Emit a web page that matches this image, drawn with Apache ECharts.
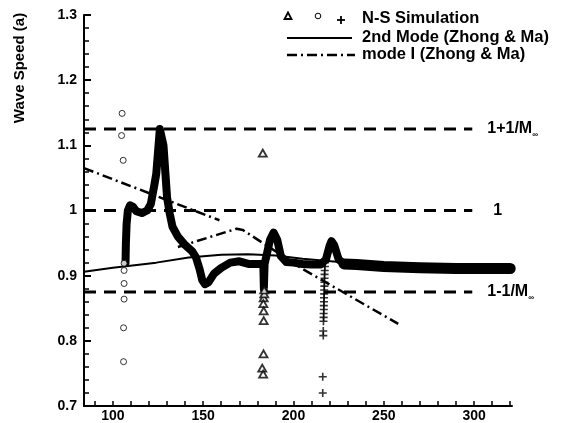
<!DOCTYPE html>
<html><head><meta charset="utf-8">
<script src="https://cdn.jsdelivr.net/npm/echarts@6/dist/echarts.min.js"></script>
<style>html,body{margin:0;padding:0;background:#fff}#c{width:573px;height:423px}</style>
</head><body><div id="c"></div>
<script>
// ---- data ----
const xTickLabels = [100, 150, 200, 250, 300];
const xTickValues = [90,100,110,120,130,140,150,160,170,180,190,200,210,220,230,240,250,260,270,280,290,300,310,320];
const refLevels = [1.125, 1.0, 0.875];
const refLabels = ['1+1/M', '1', '1-1/M'];
const refXStart = 84, refXEnd = 299;

// N-S simulation (dense band)
const nsCurve = [[107,0.92],[107.2,0.95],[107.6,0.98],[108.3,1.0],[109.5,1.008],[111,1.006],[113,0.999],[116,0.996],[119,1.0],[121,1.01],[123,1.04],[124,1.056],[125,1.09],[126,1.125],[127,1.127],[128,1.1],[129,1.06],[130,1.02],[131.5,0.995],[133,0.975],[136,0.96],[140,0.947],[144,0.937],[146,0.928],[148,0.91],[149.5,0.893],[151,0.887],[153,0.89],[156,0.903],[160,0.912],[165,0.92],[170,0.922],[175,0.918],[180,0.918],[183.3,0.918],[183.6,0.88],[184,0.918],[185,0.93],[187,0.955],[189,0.966],[191,0.955],[193,0.93],[196,0.921],[200,0.92],[205,0.918],[210,0.917],[215,0.917],[218,0.925],[220,0.946],[221,0.953],[222.5,0.947],[225,0.925],[228,0.918]];
const nsTail = [[228,0.918],[235,0.917],[250,0.914],[270,0.912],[290,0.911],[320,0.911]];
const nsCircles = [[105.1,1.149],[104.8,1.115],[105.7,1.077],[106.2,0.919],[106.2,0.908],[106.2,0.888],[106.2,0.864],[105.9,0.82],[105.9,0.768]];
const nsTriangles = [[183,1.088],[183.5,0.866],[183.3,0.857],[183.5,0.846],[183.5,0.831],[183.4,0.78],[182.7,0.758],[183.2,0.749],[183.8,0.872],[183.8,0.878]];
const nsPluses = [[216.2,0.72],[216.2,0.745],[216.5,0.808],[216.5,0.815],[216.6,0.83],[216.7,0.836],[216.7,0.842],[216.8,0.848],[216.8,0.854],[216.9,0.86],[216.9,0.866],[217,0.872],[217,0.878],[217.1,0.884],[217.1,0.89],[217.2,0.896],[217.2,0.902],[217.3,0.908],[217.4,0.914],[217.5,0.92]];

// 2nd mode (Zhong & Ma)
const mode2 = [[84,0.906],[100,0.912],[124,0.92],[142,0.928],[160,0.932],[175,0.933],[190,0.931],[205,0.926],[230,0.92],[260,0.915],[300,0.912],[320,0.911]];
// mode I (Zhong & Ma)
const mode1 = [[84,1.065],[159,0.985],null,[136,0.944],[168.5,0.972],[172,0.970],[187,0.943],[204,0.912],[258,0.826]];

const chart = echarts.init(document.getElementById('c'));
const FONT = 'Liberation Sans';
const series = [];
refLevels.forEach((v, i) => {
  series.push({
    type: 'line', data: [[refXStart, v], [refXEnd, v]],
    symbol: 'none', silent: true, z: 1,
    lineStyle: {color: '#000', width: 3, type: [12, 8]},
    endLabel: {show: true, distance: i === 1 ? 21 : 15, fontFamily: FONT, fontWeight: 'bold', fontSize: 16, color: '#000',
      formatter: () => i === 1 ? refLabels[i] : '{a|' + refLabels[i] + '}{b|∞}',
      rich: {a: {fontFamily: FONT, fontWeight: 'bold', fontSize: 16, color: '#000'},
             b: {fontFamily: FONT, fontSize: 8, color: '#000', padding: [12, 0, 0, 0]}}}
  });
});
series.push({type: 'line', data: mode2, symbol: 'none', z: 2, lineStyle: {color: '#000', width: 2}});
series.push({type: 'line', data: mode1, symbol: 'none', z: 2, connectNulls: false, lineStyle: {color: '#000', width: 2.5, type: [10, 4, 2, 4]}});
series.push({type: 'line', data: nsCurve, symbol: 'none', z: 3, lineStyle: {color: '#000', width: 8, cap: 'round', join: 'round'}});
series.push({type: 'line', data: nsTail, symbol: 'none', z: 3, lineStyle: {color: '#000', width: 11, cap: 'round', join: 'round'}});
series.push({type: 'scatter', data: nsCircles, symbol: 'circle', symbolSize: 6, z: 4,
  itemStyle: {color: '#fff', borderColor: '#000', borderWidth: 1}});
series.push({type: 'scatter', data: nsTriangles, symbol: 'triangle', symbolSize: [8, 7], z: 4,
  itemStyle: {color: '#fff', borderColor: '#000', borderWidth: 1.8}});
series.push({type: 'scatter', data: nsPluses, symbol: 'path://M-0.8,-4 H0.8 V-0.8 H4 V0.8 H0.8 V4 H-0.8 V0.8 H-4 V-0.8 H-0.8 Z', symbolSize: 8, z: 4,
  itemStyle: {color: '#000'}});

const legendY = [18, 37, 54];
const LF = 16.5;
chart.setOption({
  animation: false,
  grid: {left: 84, right: 61, top: 15, bottom: 17, containLabel: false},
  xAxis: {type: 'value', min: 84, max: 321,
    axisLine: {onZero: false, lineStyle: {color: '#000', width: 2}},
    axisTick: {inside: true, length: 5, customValues: xTickValues, lineStyle: {color: '#000', width: 1.5}},
    axisLabel: {customValues: xTickLabels, margin: 3, fontFamily: FONT, fontWeight: 'bold', fontSize: 14, color: '#000'},
    splitLine: {show: false}},
  yAxis: {type: 'value', min: 0.7, max: 1.3, interval: 0.1,
    axisLine: {show: true, onZero: false, lineStyle: {color: '#000', width: 2}},
    axisTick: {show: true, inside: true, length: 7, lineStyle: {color: '#000', width: 2}},
    minorTick: {show: true, splitNumber: 5, length: 5, lineStyle: {color: '#000', width: 1.5}},
    axisLabel: {margin: 7, fontFamily: FONT, fontWeight: 'bold', fontSize: 14, color: '#000', formatter: v => String(+v.toFixed(1))},
    splitLine: {show: false}, minorSplitLine: {show: false}},
  graphic: [
    {type: 'text', x: 20, y: 68, rotation: Math.PI / 2, style: {text: 'Wave Speed (a)', fontFamily: FONT, fontWeight: 'bold', fontSize: 15, fill: '#000', align: 'center', verticalAlign: 'middle'}},
    {type: 'polygon', shape: {points: [[288, 12.5], [284.5, 19], [291.5, 19]]}, style: {fill: '#fff', stroke: '#000', lineWidth: 1.8}},
    {type: 'circle', shape: {cx: 318, cy: 16, r: 2.8}, style: {fill: '#fff', stroke: '#000', lineWidth: 1}},
    {type: 'line', shape: {x1: 341, y1: 16, x2: 341, y2: 24}, style: {stroke: '#000', lineWidth: 1.8}},
    {type: 'line', shape: {x1: 337, y1: 20, x2: 345, y2: 20}, style: {stroke: '#000', lineWidth: 1.8}},
    {type: 'line', shape: {x1: 287, y1: legendY[1] + 1, x2: 352, y2: legendY[1] + 1}, style: {stroke: '#000', lineWidth: 2}},
    {type: 'line', shape: {x1: 287, y1: legendY[2] + 1, x2: 355, y2: legendY[2] + 1}, style: {stroke: '#000', lineWidth: 2.5, lineDash: [10, 4, 2, 4]}},
    {type: 'text', x: 362, y: legendY[0], style: {text: 'N-S Simulation', fontFamily: FONT, fontWeight: 'bold', fontSize: LF, fill: '#000', verticalAlign: 'middle'}},
    {type: 'text', x: 362, y: legendY[1], style: {text: '2nd Mode (Zhong & Ma)', fontFamily: FONT, fontWeight: 'bold', fontSize: LF, fill: '#000', verticalAlign: 'middle'}},
    {type: 'text', x: 362, y: legendY[2], style: {text: 'mode I (Zhong & Ma)', fontFamily: FONT, fontWeight: 'bold', fontSize: LF, fill: '#000', verticalAlign: 'middle'}}
  ],
  series: series
});
</script></body></html>
